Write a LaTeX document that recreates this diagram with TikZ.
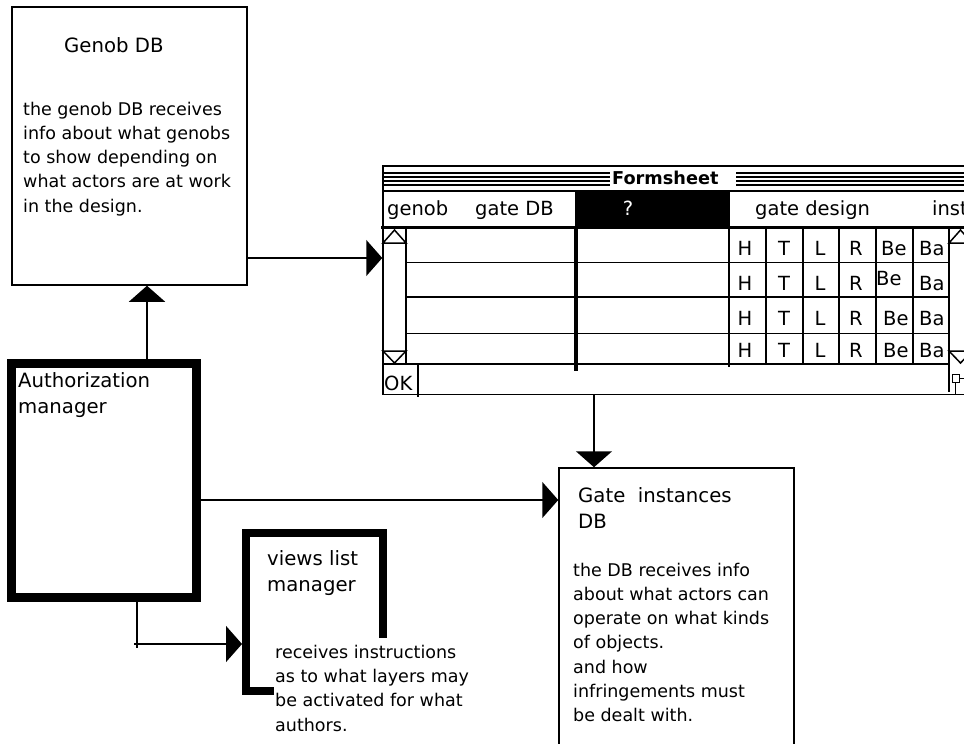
\documentclass[tikz,border=0pt]{standalone}
\usepackage{fontspec}
\setmainfont{DejaVu Sans}
\usetikzlibrary{arrows.meta,calc}

\begin{document}
\begin{tikzpicture}[x=1pt, y=-1pt,
  box/.style={draw, line width=1.5pt, inner sep=0pt},
  heavybox/.style={draw, line width=9pt, inner sep=0pt},
  conn/.style={line width=1.5pt, -{Triangle[length=16pt,width=36pt]}},
  wire/.style={line width=1.5pt},
  gridline/.style={line width=1.5pt},
  stripe/.style={line width=2pt},
  head/.style={font=\fontsize{19.7pt}{26pt}\selectfont, align=left, anchor=base west, inner sep=0pt},
  body/.style={font=\fontsize{17.5pt}{24.3pt}\selectfont, align=left, anchor=base west, inner sep=0pt},
  cell/.style={font=\fontsize{19.5pt}{22pt}\selectfont, anchor=base, inner sep=0pt},
  cellw/.style={cell, anchor=base west}]
  \useasboundingbox (0,0) rectangle (964,744);
  \clip (0,0) rectangle (964,744);

  % Genob DB panel (text nodes sit on the baseline of their last line)
  \node[box, minimum width=235pt, minimum height=278pt] (genob) at (129.5,146) {};
  \node[head] (genobtitle) at (64,52) {Genob DB};
  \node[body] (genobtext) at (23,212.2) {the genob DB receives\\info about what genobs\\to show depending on\\what actors are at work\\in the design.};

  % Authorization manager
  \node[heavybox, minimum width=185pt, minimum height=234pt] (auth) at (104,480.5) {};
  \node[head] (authtitle) at (18,413) {Authorization\\manager};

  % views list manager
  \node[minimum width=145pt, minimum height=166pt, inner sep=0pt, outer sep=0pt] (views) at (314.5,612) {};
  \draw[line width=8pt] (274,691) -- (246,691) -- (246,533) -- (383,533) -- (383,638);
  \node[head] (viewstitle) at (267,591) {views list\\manager};
  \node[body] (viewstext) at (275,731) {receives instructions\\as to what layers may\\be activated for what\\authors.};

  % Gate instances DB
  \node[box, minimum width=235pt, minimum height=292pt] (gate) at (676.5,614) {};
  \node[head] (gatetitle) at (578,528) {Gate\ \ instances\\DB};
  \node[body] (gatetext) at (573,721.8) {the DB receives info\\about what actors can\\operate on what kinds\\of objects.\\and how\\infringements must\\be dealt with.};

  % Formsheet window and title bar
  \node[box, minimum width=600pt, minimum height=228.5pt] (form) at (683,280.25) {};
  \draw[gridline] (383,191) -- (983,191);
  \draw[stripe] (383,173.3) -- (610,173.3) (383,177.3) -- (610,177.3) (383,181.3) -- (610,181.3) (383,185.3) -- (610,185.3)
    (736,173.3) -- (983,173.3) (736,177.3) -- (983,177.3) (736,181.3) -- (983,181.3) (736,185.3) -- (983,185.3);
  \node[font=\fontsize{17.7pt}{20pt}\selectfont\bfseries, anchor=base west, inner sep=0pt] (formtitle) at (612,184) {Formsheet};

  % header row
  \fill (575,191) rectangle (729.5,228);
  \node[cellw] (hgenob) at (387,215) {genob};
  \node[cellw] (hgatedb) at (475,215) {gate DB};
  \node[cell, text=white] (hquery) at (628,215) {?};
  \node[cellw] (hdesign) at (755,215) {gate design};
  \node[cellw] (hinst) at (932,215) {inst};
  \draw[line width=3pt] (381,227) -- (983,227);

  % scroll bars
  \draw[gridline] (406,227) -- (406,364);
  \draw[gridline] (383,243) -- (394.5,230) -- (406,243) -- cycle;
  \draw[gridline] (383,351) -- (394.5,363) -- (406,351) -- cycle;
  \draw[gridline] (949,227) -- (949,392);
  \draw[gridline] (949,243) -- (960.5,230) -- (972,243) -- cycle;
  \draw[gridline] (949,351) -- (960.5,363) -- (972,351) -- cycle;

  % rows and columns
  \draw[gridline] (406,262.5) -- (949,262.5) (406,297) -- (949,297) (406,333.5) -- (949,333.5) (383,364) -- (949,364);
  \draw[line width=3.5pt] (576,227) -- (576,371);
  \draw[line width=2pt] (729,227) -- (729,366.5) (765.5,227) -- (765.5,364) (802.5,227) -- (802.5,364)
    (839,227) -- (839,364) (876,227) -- (876,364) (912.5,227) -- (912.5,364);

  % gate design cells
  \node[cell] (h1) at (745,255) {H}; \node[cell] (t1) at (784,255) {T}; \node[cell] (l1) at (820,255) {L};
  \node[cell] (r1) at (856,255) {R}; \node[cellw] (be1) at (881,255) {Be}; \node[cellw] (ba1) at (919,255) {Ba};
  \node[cell] (h2) at (745,290) {H}; \node[cell] (t2) at (784,290) {T}; \node[cell] (l2) at (820,290) {L};
  \node[cell] (r2) at (856,290) {R}; \node[cellw] (be2) at (876,285) {Be}; \node[cellw] (ba2) at (919,290) {Ba};
  \node[cell] (h3) at (745,325) {H}; \node[cell] (t3) at (784,325) {T}; \node[cell] (l3) at (820,325) {L};
  \node[cell] (r3) at (856,325) {R}; \node[cellw] (be3) at (883,325) {Be}; \node[cellw] (ba3) at (919,325) {Ba};
  \node[cell] (h4) at (745,357) {H}; \node[cell] (t4) at (784,357) {T}; \node[cell] (l4) at (820,357) {L};
  \node[cell] (r4) at (856,357) {R}; \node[cellw] (be4) at (883,357) {Be}; \node[cellw] (ba4) at (919,357) {Ba};

  % bottom bar
  \node[cellw] (okbtn) at (384,390) {OK};
  \draw[gridline] (418,364) -- (418,397);
  \draw[line width=1pt] (955.5,378) rectangle (972,394);
  \draw[line width=1pt, fill=white] (952,374) rectangle (959,382);

  % connectors
  \draw[conn] (genob.east |- 0,258) -- (form.west |- 0,258);
  \draw[conn] (auth.north -| 147,0) -- (genob.south -| 147,0);
  \draw[conn] (auth.east |- 0,500) -- (gate.west |- 0,500);
  \draw[conn] (form.south -| 594,0) -- (gate.north -| 594,0);
  \draw[wire] (auth.south -| 137,0) -- (137,648);
  \draw[conn] (134,644) -- (views.west |- 0,644);
\end{tikzpicture}
\end{document}
